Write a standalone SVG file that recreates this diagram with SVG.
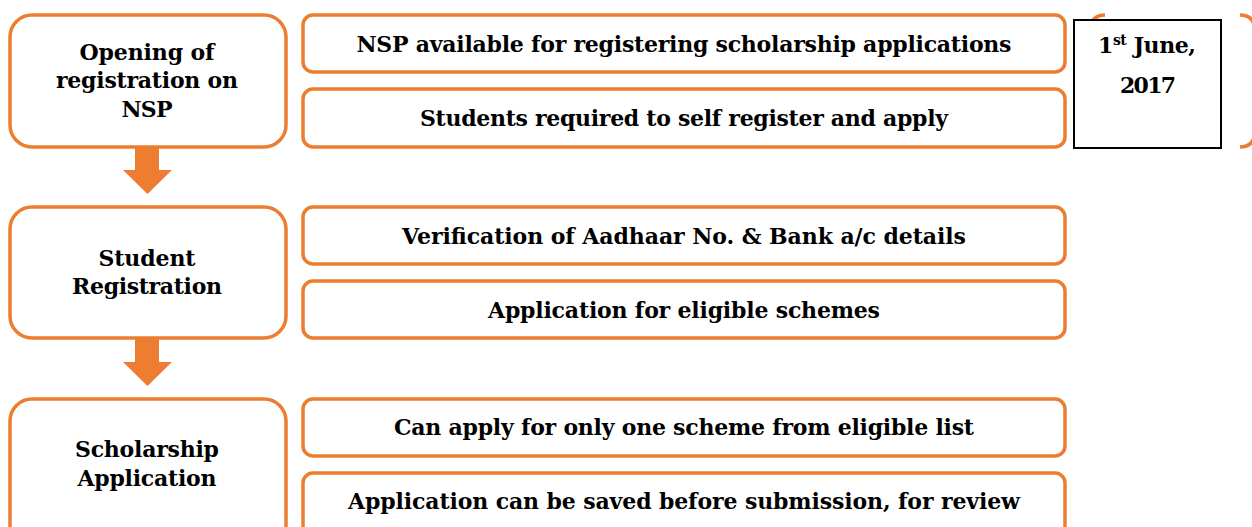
<svg xmlns="http://www.w3.org/2000/svg" width="1252" height="527" viewBox="0 0 1252 527">
<style>
.box{fill:#fff;stroke:#ED7D31;stroke-width:3.5}
.t{font-family:"DejaVu Serif","Liberation Serif",serif;font-weight:bold;font-size:22px;fill:#000;text-anchor:middle}
.arrow{fill:#ED7D31}
</style>
<rect width="1252" height="527" fill="#fff"/>
<g id="bracket">
<path d="M1105,15 Q1090,15 1090,32 L1090,130 Q1090,147 1105,147 M1240,15 Q1255,15 1255,32 L1255,130 Q1255,147 1240,147" fill="none" stroke="#ED7D31" stroke-width="3.5"/>
</g>
<g id="date">
<rect x="1074" y="20" width="147" height="128" fill="#fff" stroke="#000" stroke-width="2"/>
<text class="t" x="1147" y="53" textLength="98">1<tspan font-size="14" dy="-8">st</tspan><tspan dy="8"> June,</tspan></text>
<text class="t" x="1148" y="93" textLength="56">2017</text>
</g>
<g id="connectors">
<path class="arrow" d="M135,147 H159 V170 H172 L147.5,194 L123,170 H135 Z"/>
<path class="arrow" d="M135,338 H159 V362 H172 L147.5,386 L123,362 H135 Z"/>
</g>
<g id="n1">
<rect class="box" x="10" y="15" width="276" height="132" rx="22"/>
<text class="t" x="147" y="60" textLength="135">Opening of</text>
<text class="t" x="147" y="88" textLength="182">registration on</text>
<text class="t" x="147" y="117" textLength="51">NSP</text>
</g>
<g id="n1a">
<rect class="box" x="303" y="15" width="762" height="57" rx="10"/>
<text class="t" x="684" y="52" textLength="655">NSP available for registering scholarship applications</text>
</g>
<g id="n1b">
<rect class="box" x="303" y="89" width="762" height="58" rx="10"/>
<text class="t" x="684" y="126" textLength="528">Students required to self register and apply</text>
</g>
<g id="n2">
<rect class="box" x="10" y="207" width="276" height="131" rx="22"/>
<text class="t" x="147" y="266" textLength="97">Student</text>
<text class="t" x="147" y="294" textLength="150">Registration</text>
</g>
<g id="n2a">
<rect class="box" x="303" y="207" width="762" height="57" rx="10"/>
<text class="t" x="684" y="244" textLength="564">Verification of Aadhaar No. &amp; Bank a/c details</text>
</g>
<g id="n2b">
<rect class="box" x="303" y="281" width="762" height="57" rx="10"/>
<text class="t" x="684" y="318" textLength="392">Application for eligible schemes</text>
</g>
<g id="n3">
<rect class="box" x="10" y="399" width="276" height="160" rx="22"/>
<text class="t" x="147" y="457" textLength="144">Scholarship</text>
<text class="t" x="147" y="486" textLength="139">Application</text>
</g>
<g id="n3a">
<rect class="box" x="303" y="399" width="762" height="57" rx="10"/>
<text class="t" x="684" y="435" textLength="580">Can apply for only one scheme from eligible list</text>
</g>
<g id="n3b">
<rect class="box" x="303" y="473" width="762" height="80" rx="10"/>
<text class="t" x="684" y="509" textLength="672">Application can be saved before submission, for review</text>
</g>
</svg>
